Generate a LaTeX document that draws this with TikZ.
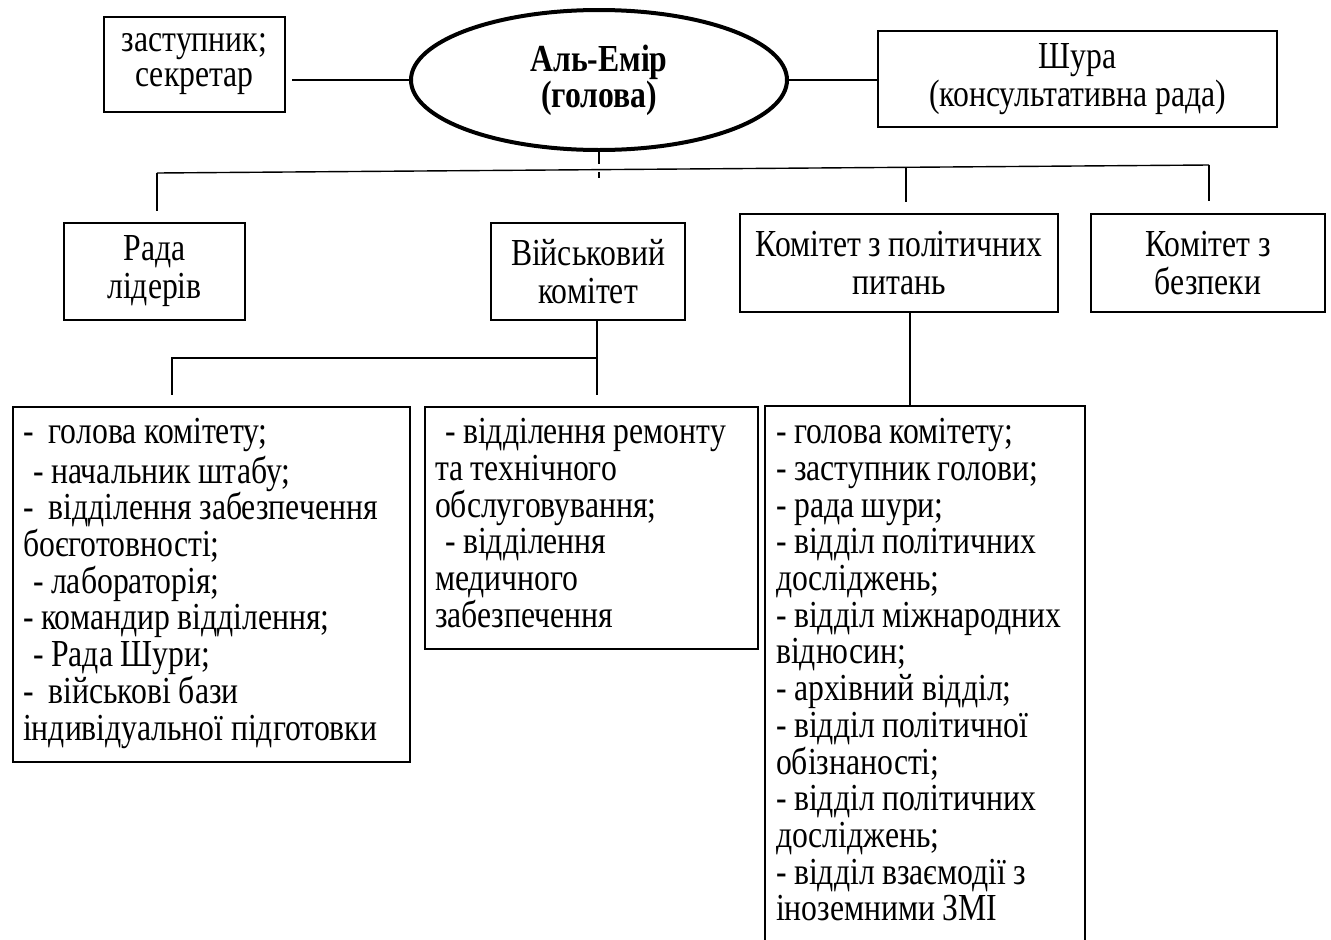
\documentclass[tikz,border=0pt]{standalone}
\usepackage{fontspec}
\setmainfont[FakeStretch=0.83, WordSpace=0.95]{Liberation Serif}
\usetikzlibrary{shapes.geometric}
\tikzset{
	unitbox/.style={draw, line width=2.2pt, align=center, inner sep=0pt, font=\fontsize{38.2}{38}\selectfont},
	listbox/.style={draw, line width=2.2pt, align=flush left, anchor=north west, inner xsep=10pt, inner ysep=11pt, font=\fontsize{38.2}{36.7}\selectfont},
	link/.style={line width=1.4pt}
}

\begin{document}
\begin{tikzpicture}[x=1pt,y=-1pt]
			\useasboundingbox (0,0) rectangle (1331,940);
			
			\node[ellipse, draw, line width=4pt, minimum width=376pt, minimum height=140pt, inner sep=0pt, align=center, font=\fontsize{38.2}{36}\selectfont\bfseries] (emir) at (599,80) {Аль-Емір\\(голова)};
			\node[unitbox, minimum width=181pt, minimum height=95pt, font=\fontsize{38.2}{35}\selectfont] (deputy) at (194.5,64.5) {заступник;\\секретар};
			\node[unitbox, minimum width=399pt, minimum height=96pt] (shura) at (1077.5,79) {Шура\\(консультативна рада)};
			
			\node[unitbox, minimum width=181pt, minimum height=97pt] (rada) at (154.5,271.5) {Рада\\лідерів};
			\node[unitbox, minimum width=194pt, minimum height=97pt] (mil) at (588,271.5) {Військовий\\комітет};
			\node[unitbox, minimum width=318pt, minimum height=98pt] (pol) at (899,263) {Комітет з політичних\\питань};
			\node[unitbox, minimum width=234pt, minimum height=98pt] (sec) at (1208,263) {Комітет з\\безпеки};
			
			\node[listbox, text width=377pt] (armlist) at (12,406) {\strut-\ \ голова комітету;\\\hspace*{10pt}- начальник штабу;\\-\ \ відділення забезпечення\\боєготовності;\\\hspace*{10pt}- лабораторія;\\- командир відділення;\\\hspace*{10pt}- Рада Шури;\\-\ \ військові бази\\індивідуальної підготовки\strut};
			\node[listbox, text width=313pt] (medlist) at (424,406) {\strut\hspace*{10pt}- відділення ремонту\\та технічного\\обслуговування;\\\hspace*{10pt}- відділення\\медичного\\забезпечення\strut};
			\node[listbox, draw=none, text width=298pt] (polist) at (765,406) {\strut- голова комітету;\\- заступник голови;\\- рада шури;\\- відділ політичних\\досліджень;\\- відділ міжнародних\\відносин;\\- архівний відділ;\\- відділ політичної\\обізнаності;\\- відділ політичних\\досліджень;\\- відділ взаємодії з\\іноземними ЗМІ\strut};
			\draw[line width=2.2pt] (polist.south west) -- (polist.north west) -- (polist.north east) -- (polist.south east);
			
			\coordinate (bL) at (157,173);
			\coordinate (bP) at (906,167.3);
			\coordinate (bR) at (1209,165);
			\coordinate (mj) at (597,358);
			\coordinate (ml) at (172,358);
			\coordinate (pj) at (910,360);
			
			\draw[link, shorten <=6pt] (deputy.east |- emir.west) -- (emir.west);
			\draw[link] (emir.east) -- (shura.west |- emir.east);
			\draw[link, dash pattern=on 12pt off 8pt] (emir.south) -- ++(0,26);
			\draw[link] (bL) -- (bR);
			\draw[link, shorten >=11pt] (bL) -- (rada.north -| bL);
			\draw[link, shorten >=11pt] (bP) -- (pol.north -| bP);
			\draw[link, shorten >=12pt] (bR) -- (sec.north -| bR);
			
			\draw[link, shorten >=11pt] (mil.south -| mj) -- (mj |- medlist.north);
			\draw[link, shorten >=11pt] (mj) -- (ml) -- (ml |- armlist.north);
			\draw[link] (pol.south -| pj) -- (pj |- polist.north);
		\end{tikzpicture}
\end{document}
